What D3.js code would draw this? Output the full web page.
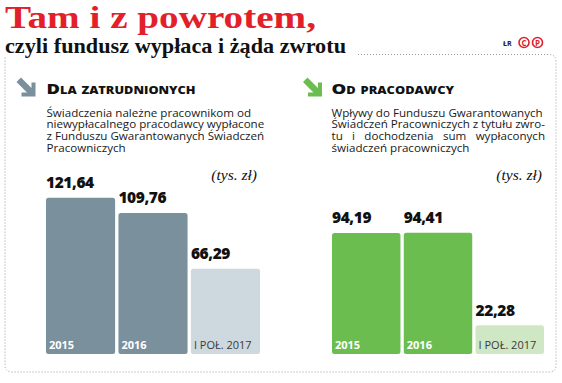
<!DOCTYPE html>
<html>
<head>
<meta charset="utf-8">
<script src="https://cdn.jsdelivr.net/npm/d3@7"></script>
<style>
  html, body { margin: 0; padding: 0; background: #fff; }
  svg { display: block; }
</style>
</head>
<body>
<svg id="chart" width="562" height="383"></svg>
<script>
// ---- data ----
const categories = ["2015", "2016", "I POŁ. 2017"];
const employeeValues = [121.64, 109.76, 66.29];
const employerValues = [94.19, 94.41, 22.28];
const valueLabelsLeft = ["121,64", "109,76", "66,29"];
const valueLabelsRight = ["94,19", "94,41", "22,28"];
const titleText = "Tam i z powrotem,";
const subtitleText = "czyli fundusz wypłaca i żąda zwrotu";
const leftHeader = "Dla zatrudnionych";
const rightHeader = "Od pracodawcy";
const leftDesc = ["Świadczenia należne pracownikom od", "niewypłacalnego pracodawcy wypłacone", "z Funduszu Gwarantowanych Świadczeń", "Pracowniczych"];
const rightDesc = ["Wpływy do Funduszu Gwarantowanych", "Świadczeń Pracowniczych z tytułu zwro-", "tu i dochodzenia sum wypłaconych", "świadczeń pracowniczych"];
const unitText = "(tys. zł)";

const svg = d3.select("#chart");
const sans = "'Open Sans', 'Noto Sans', sans-serif";
const serif = "'Liberation Serif', 'DejaVu Serif', serif";

// ---- title ----
svg.append("text").attr("x", 5).attr("y", 27.5)
  .attr("font-family", serif).attr("font-weight", 700).attr("font-size", 31)
  .attr("fill", "#e3202a").attr("textLength", 311).attr("lengthAdjust", "spacingAndGlyphs")
  .text(titleText);
svg.append("text").attr("x", 5).attr("y", 53)
  .attr("font-family", serif).attr("font-weight", 700).attr("font-size", 21)
  .attr("fill", "#111").attr("textLength", 341).attr("lengthAdjust", "spacingAndGlyphs")
  .text(subtitleText);

// credits
svg.append("text").attr("x", 503).attr("y", 46).attr("font-family", sans)
  .attr("font-size", 7).attr("font-weight", 700).attr("fill", "#222").text("ŁR");
[["C", 524], ["P", 537.5]].forEach(([l, cx]) => {
  svg.append("circle").attr("cx", cx).attr("cy", 42.5).attr("r", 5)
    .attr("fill", "none").attr("stroke", "#e3202a").attr("stroke-width", 1.6);
  svg.append("text").attr("x", cx).attr("y", 45.6).attr("text-anchor", "middle")
    .attr("font-family", sans).attr("font-weight", 700).attr("font-size", 8)
    .attr("fill", "#e3202a").text(l);
});

// dotted frame
const frame = d3.path();
frame.moveTo(358, 54.5);
frame.lineTo(549, 54.5);
frame.quadraticCurveTo(556, 54.5, 556, 62);
frame.lineTo(556, 365);
frame.quadraticCurveTo(556, 372, 549, 372);
frame.lineTo(12, 372);
frame.quadraticCurveTo(5, 372, 5, 365);
frame.lineTo(5, 57);
svg.append("path").attr("d", frame.toString()).attr("fill", "none")
  .attr("stroke", "#9a9a9a").attr("stroke-width", 1).attr("stroke-dasharray", "1,2");

// ---- shared value scale ----
const y = d3.scaleLinear().domain([0, d3.max(employeeValues.concat(employerValues))]).range([354, 197.7]);

function measure(parent, str, size) {
  const tmp = parent.append("text").attr("font-family", sans).attr("font-size", size).text(str);
  const wd = tmp.node().getComputedTextLength(); tmp.remove(); return wd;
}

function panel(opts) {
  const g = svg.append("g");
  // arrow icon
  const ax = opts.iconX, ay = 77.5;
  g.append("path")
    .attr("d", `M${ax},${ay + 4.5} L${ax + 4.5},${ay} L${ax + 15},${ay + 10.5} L${ax + 15},${ay + 5} L${ax + 19},${ay + 5} L${ax + 19},${ay + 19} L${ax + 5},${ay + 19} L${ax + 5},${ay + 15} L${ax + 10.5},${ay + 15} Z`)
    .attr("fill", opts.dark);
  // header
  g.append("text").attr("x", opts.x0).attr("y", 93.5)
    .attr("font-family", sans).attr("font-weight", 800).attr("font-size", 14.5)
    .attr("font-variant", "small-caps").attr("fill", "#111")
    .attr("textLength", opts.headerW).attr("lengthAdjust", "spacingAndGlyphs")
    .text(opts.header);
  // description
  const fs = 11.6;
  const desc = g.append("g");
  opts.desc.forEach((line, i) => {
    const t = desc.append("text").attr("x", opts.x0).attr("y", 116.5 + i * 11.7)
      .attr("font-family", sans).attr("font-size", fs).attr("fill", "#1a1a1a");
    if (opts.justify && opts.justify.includes(i)) {
      const words = line.split(" ");
      const widths = words.map(w => measure(desc, w, fs));
      const total = d3.sum(widths);
      const gap = (opts.descRight - opts.x0 - total) / (words.length - 1);
      let cx = opts.x0;
      words.forEach((w, k) => {
        t.append("tspan").attr("x", cx).text(w);
        cx += widths[k] + gap;
      });
    } else {
      t.text(line);
    }
  });
  // unit
  g.append("text").attr("x", opts.unitX).attr("y", 180).attr("text-anchor", "end")
    .attr("font-family", serif).attr("font-style", "italic").attr("font-size", 15.5)
    .attr("fill", "#111").text(unitText);

  // bars
  const x = d3.scaleBand().domain(categories).range(opts.range).paddingInner(0.046).paddingOuter(0);
  const bars = g.selectAll("g.bar").data(categories.map((c, i) => ({ c, v: opts.values[i], lab: opts.labels[i], i })))
    .enter().append("g");
  bars.append("rect")
    .attr("x", d => x(d.c)).attr("y", d => y(d.v))
    .attr("width", x.bandwidth()).attr("height", d => y(0) - y(d.v))
    .attr("rx", 2.5)
    .attr("fill", d => d.i === 2 ? opts.light : opts.dark);
  bars.append("text")
    .attr("x", d => x(d.c)).attr("y", d => y(d.v) - 9.5)
    .attr("font-family", sans).attr("font-weight", 800).attr("font-size", 15.5)
    .attr("letter-spacing", -0.4)
    .attr("fill", "#111").text(d => d.lab);
  bars.append("text")
    .attr("x", d => x(d.c) + 3).attr("y", 349)
    .attr("font-family", sans).attr("font-weight", d => d.i === 2 ? 400 : 700).attr("font-size", 11)
    .attr("fill", d => d.i === 2 ? "#3a3a3a" : "#fff").text(d => d.c);
}

panel({
  iconX: 16.5, x0: 46.5, header: leftHeader, headerW: 149, desc: leftDesc, unitX: 257,
  range: [46, 260], values: employeeValues, labels: valueLabelsLeft,
  dark: "#7a909c", light: "#cdd8df"
});
panel({
  iconX: 303, x0: 331.5, header: rightHeader, headerW: 122.5, desc: rightDesc, unitX: 542, descRight: 545, justify: [1, 2],
  range: [332, 544], values: employerValues, labels: valueLabelsRight,
  dark: "#6bbd50", light: "#cfe7c4"
});
</script>
</body>
</html>
